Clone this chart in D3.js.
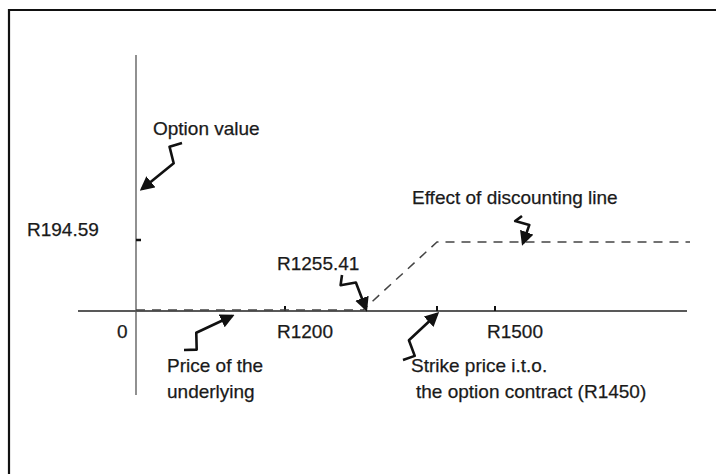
<!DOCTYPE html>
<meta charset="utf-8">
<style>
    body { margin: 0; background: #fff; }
    text { font-family: "Liberation Sans", Arial, sans-serif; font-size: 19px; fill: #1a1a1a; stroke: #1a1a1a; stroke-width: 0.25; }
</style>
<body>
<script src="https://d3js.org/d3.v7.min.js"></script>
<svg width="716" height="474"></svg>
<script>
    // price of the underlying (x) and option value (y), in Rand
    var xBreaks = [0, 1200, 1255.41, 1450, 1500, 1800];
    var xTicks = [1200, 1450, 1500];
    var xTickLabels = ["0", "R1200", "R1500"];
    var xLabelValues = [0, 1200, 1500];
    var yTicks = [194.59];
    var yTickLabels = ["R194.59"];

    // discounted payoff line: flat at 0 up to R1255.41, rising to the strike, then flat
    var lineX = [0, 1255.41, 1450, 1800];
    var lineY = [0, 0, 194.59, 194.59];

    var svg = d3.select("svg");

    // the axis is schematic (not to scale), so a piecewise linear scale is used
    var x = d3.scaleLinear().domain(xBreaks).range([136, 285, 363, 437, 495, 690]);
    var y = d3.scaleLinear().domain([0, 194.59]).range([311, 243]);

    // frame (only top and left edges show in the scan)
    svg.append("path")
        .attr("d", "M9,474 V10 H716")
        .attr("fill", "none")
        .attr("stroke", "#111")
        .attr("stroke-width", 2.2);

    // axes
    svg.append("line")
        .attr("x1", x(0) - 58).attr("x2", x(1800) - 3)
        .attr("y1", y(0)).attr("y2", y(0))
        .attr("stroke", "#222").attr("stroke-width", 1.5);

    svg.append("line")
        .attr("x1", x(0)).attr("x2", x(0))
        .attr("y1", y(0) - 256).attr("y2", y(0) + 84)
        .attr("stroke", "#555").attr("stroke-width", 1.3);

    svg.selectAll(".xtick")
        .data(xTicks)
        .enter().append("line")
        .attr("class", "xtick")
        .attr("x1", d => x(d)).attr("x2", d => x(d))
        .attr("y1", y(0)).attr("y2", y(0) - 5)
        .attr("stroke", "#111").attr("stroke-width", 2);

    svg.selectAll(".ytick")
        .data(yTicks)
        .enter().append("line")
        .attr("class", "ytick")
        .attr("x1", x(0)).attr("x2", x(0) + 5)
        .attr("y1", d => y(d) - 3).attr("y2", d => y(d) - 3)
        .attr("stroke", "#111").attr("stroke-width", 2.5);

    svg.selectAll(".xlabel")
        .data(xTickLabels)
        .enter().append("text")
        .attr("class", "xlabel")
        .attr("x", (d, i) => i == 0 ? x(xLabelValues[i]) - 19 : x(xLabelValues[i]) - 8)
        .attr("y", y(0) + 27)
        .text(d => d);

    svg.selectAll(".ylabel")
        .data(yTickLabels)
        .enter().append("text")
        .attr("class", "ylabel")
        .attr("x", 27)
        .attr("y", (d, i) => y(yTicks[i]) - 7)
        .text(d => d);

    // dashed line
    var pts = lineX.map(function(v, i) { return [x(v), y(lineY[i]) - 1]; });
    svg.append("path")
        .attr("d", d3.line()(pts))
        .attr("fill", "none")
        .attr("stroke", "#444")
        .attr("stroke-width", 1.5)
        .attr("stroke-dasharray", "9,7");

    // annotation text
    var notes = [
        ["Option value", 153, 135],
        ["Effect of discounting line", 412, 204],
        ["R1255.41", 277, 270],
        ["Price of the", 167, 372],
        ["underlying", 167, 398],
        ["Strike price i.t.o.", 411, 372],
        ["the option contract (R1450)", 416, 398]
    ];
    svg.selectAll(".note")
        .data(notes)
        .enter().append("text")
        .attr("class", "note")
        .attr("x", d => d[1])
        .attr("y", d => d[2])
        .text(d => d[0]);

    // squiggly arrows: tail -> head
    svg.append("defs").append("marker")
        .attr("id", "head")
        .attr("viewBox", "0 0 10 10")
        .attr("refX", 8).attr("refY", 5)
        .attr("markerWidth", 5.5).attr("markerHeight", 5.5)
        .attr("markerUnits", "strokeWidth")
        .attr("orient", "auto")
        .append("path")
        .attr("d", "M0,0 L10,5 L0,10 z")
        .attr("fill", "#111");

    var arrows = [
        [[182, 143], [142, 189]],
        [[184, 350], [232, 316]],
        [[342, 275], [366, 309]],
        [[403, 360], [437, 314]],
        [[522, 216], [523, 243]]
    ];

    function squiggle(a) {
        var t = a[0], h = a[1];
        var dx = h[0] - t[0], dy = h[1] - t[1];
        var len = Math.sqrt(dx * dx + dy * dy);
        var ux = dx / len, uy = dy / len, nx = -uy, ny = ux;
        var w = 7;
        var p1 = [t[0] + ux * len * 0.18 + nx * w, t[1] + uy * len * 0.18 + ny * w];
        var p2 = [t[0] + ux * len * 0.34 - nx * w, t[1] + uy * len * 0.34 - ny * w];
        return d3.line()([t, p1, p2, h]);
    }

    svg.selectAll(".arrow")
        .data(arrows)
        .enter().append("path")
        .attr("class", "arrow")
        .attr("d", squiggle)
        .attr("fill", "none")
        .attr("stroke", "#111")
        .attr("stroke-width", 2.6)
        .attr("stroke-linejoin", "round")
        .attr("marker-end", "url(#head)");
</script>
</body>
